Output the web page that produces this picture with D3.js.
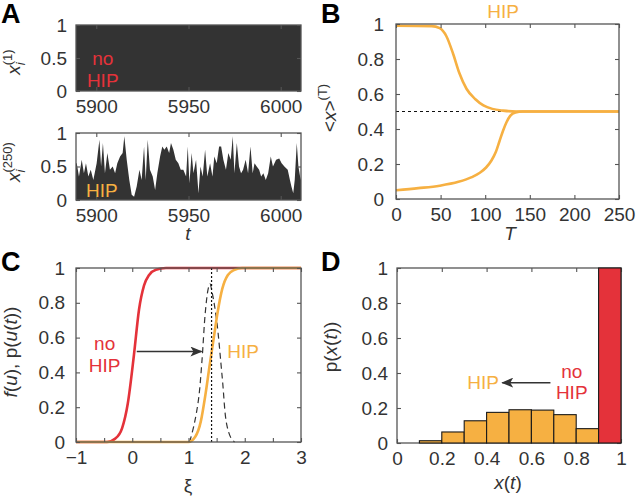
<!DOCTYPE html>
<html>
<head>
<meta charset="utf-8">
<script src="https://cdn.jsdelivr.net/npm/d3@7"></script>
<style>
  html, body { margin: 0; padding: 0; background: #fff; }
  svg { display: block; font-family: "Liberation Sans", Arial, sans-serif; }
</style>
</head>
<body>
<svg id="fig" width="640" height="504"></svg>
<script>
// ---- data ----
// A, top: x_i^(1) stays at 1 (no HIP)
const aTopT = [5889, 6011];
const aTopX = [1, 1];
// A, bottom: x_i^(250) with HIP
const aBotT = [5889, 5889.4, 5890.6, 5892.1, 5893.3, 5894.4, 5895.7, 5897.0, 5898.4, 5900.2,
  5901.7, 5902.6, 5903.6, 5904.7, 5906.0, 5907.4, 5908.9, 5910.2, 5911.4, 5912.9,
  5914.3, 5915.2, 5916.5, 5917.9, 5919.2, 5920.5, 5921.9, 5923.4, 5924.6, 5925.9,
  5926.8, 5927.9, 5929.1, 5930.6, 5931.9, 5933.1, 5934.6, 5935.8, 5936.9, 5938.2,
  5939.5, 5940.5, 5941.8, 5943.1, 5944.5, 5945.8, 5947.2, 5948.7, 5949.6, 5950.5,
  5951.7, 5952.7, 5954.1, 5955.4, 5956.5, 5957.7, 5959.0, 5960.2, 5961.7, 5963.0,
  5964.0, 5965.3, 5966.6, 5967.7, 5968.9, 5970.3, 5971.6, 5972.9, 5974.0, 5974.9,
  5976.2, 5977.4, 5978.5, 5979.6, 5981.0, 5982.3, 5983.6, 5984.8, 5985.8, 5987.0,
  5988.3, 5989.4, 5990.6, 5991.9, 5993.2, 5994.6, 5995.8, 5997.5, 5999.2, 6000.5,
  6002.0, 6003.8, 6005.0, 6005.8, 6006.8, 6007.6, 6008.7, 6009.6, 6010.5, 6011];
const aBotX = [0.55, 0.55, 0.35, 0.60, 0.40, 0.55, 0.35, 0.45, 0.30, 0.55,
  0.90, 0.50, 0.85, 0.40, 0.70, 0.45, 0.50, 0.40, 0.55, 0.65,
  0.70, 0.95, 0.60, 0.30, 0.08, 0.05, 0.20, 0.45, 0.30, 0.80,
  0.30, 0.90, 0.45, 0.35, 0.15, 0.40, 0.65, 0.80, 0.75, 0.80,
  0.70, 0.85, 0.75, 0.60, 0.55, 0.45, 0.45, 0.35, 0.80, 0.25,
  0.70, 0.40, 0.60, 0.10, 0.50, 0.35, 0.75, 0.35, 0.55, 0.35,
  0.65, 0.55, 0.80, 0.80, 0.60, 0.45, 0.70, 0.60, 0.95, 0.40,
  0.85, 0.50, 0.40, 0.45, 0.60, 0.40, 0.80, 0.40, 0.55, 0.50,
  0.45, 0.35, 0.40, 0.30, 0.40, 0.65, 0.50, 0.60, 0.62, 0.55,
  0.50, 0.45, 0.30, 0.20, 0.10, 0.30, 0.85, 0.50, 0.35, 0.30];

// B: running mean <x>^(T) from two starting states
const bT1 = [0, 40, 49, 56.5, 64, 71, 79, 89, 98, 108, 120, 135, 250];
const bX1 = [0.99, 0.988, 0.976, 0.93, 0.83, 0.72, 0.63, 0.57, 0.535, 0.515, 0.505, 0.5, 0.5];
const bT2 = [0, 25, 49, 70, 85, 94, 101, 107, 112, 116, 120, 124, 128, 134, 142, 250];
const bX2 = [0.05, 0.062, 0.076, 0.098, 0.125, 0.15, 0.18, 0.22, 0.27, 0.33, 0.39, 0.44, 0.475, 0.495, 0.5, 0.5];
const bRef = 0.5;

// C: transfer functions and input distribution
const cXiNo = [-1, -0.45, -0.3, -0.18, -0.08, 0.03, 0.12, 0.21, 0.3, 0.42, 0.6, 3];
const cFNo = [0, 0, 0.02, 0.08, 0.22, 0.5, 0.76, 0.9, 0.96, 0.99, 1, 1];
const cXiHip = [-1, 1.0, 1.12, 1.22, 1.3, 1.38, 1.45, 1.52, 1.6, 1.7, 1.82, 1.95, 3];
const cFHip = [0, 0, 0.03, 0.12, 0.27, 0.45, 0.6, 0.75, 0.88, 0.96, 0.99, 1, 1];
const cXiP = [1.02, 1.1, 1.18, 1.24, 1.3, 1.35, 1.38, 1.42, 1.5, 1.6, 1.68, 1.76, 1.82];
const cP = [0, 0.1, 0.25, 0.47, 0.75, 0.88, 0.91, 0.86, 0.7, 0.37, 0.1, 0.02, 0];
const cXiMean = 1.41;

// D: histograms of x(t)
const dBinLo = [0.1, 0.2, 0.3, 0.4, 0.5, 0.6, 0.7, 0.8];
const dHip = [0.013, 0.063, 0.127, 0.175, 0.19, 0.188, 0.162, 0.082];
const dBinLoNo = [0.9];
const dNoHip = [1.0];

// ---- drawing ----
const ink = "#333", frameCol = "#555";
const red = "#e4323a", orange = "#f6b042";
const svg = d3.select("#fig");

svg.append("defs").append("marker")
  .attr("id", "arrow")
  .attr("markerUnits", "userSpaceOnUse")
  .attr("markerWidth", 12).attr("markerHeight", 10)
  .attr("refX", 11).attr("refY", 5)
  .attr("orient", "auto")
  .append("path")
  .attr("d", "M0,0 L12,5 L0,10 L3,5 Z")
  .attr("fill", ink);

const num = (d) => (d < 0 ? "\u2212" + -d : String(d));

function makePanel(box, xDom, yDom) {
  const x = d3.scaleLinear().domain(xDom).range([box[0], box[1]]);
  const y = d3.scaleLinear().domain(yDom).range([box[3], box[2]]);
  const g = svg.append("g");
  return { x, y, g };
}

function frame(p, xTicks, yTicks, fmtX, fmtY, padY) {
  const { x, y, g } = p;
  const [x0, x1] = x.range();
  const [y1, y0] = y.range();
  g.append("g").attr("transform", `translate(0,${y1})`)
    .call(d3.axisBottom(x).tickValues(xTicks).tickSize(-4).tickPadding(9).tickFormat(fmtX));
  g.append("g").attr("transform", `translate(0,${y0})`)
    .call(d3.axisTop(x).tickValues(xTicks).tickSize(-4).tickFormat(""));
  g.append("g").attr("transform", `translate(${x0},0)`)
    .call(d3.axisLeft(y).tickValues(yTicks).tickSize(-4).tickPadding(padY || 10).tickFormat(fmtY));
  g.append("g").attr("transform", `translate(${x1},0)`)
    .call(d3.axisRight(y).tickValues(yTicks).tickSize(-4).tickFormat(""));
  g.selectAll(".domain").remove();
  g.selectAll("g").attr("font-family", null);
  g.selectAll(".tick line").attr("stroke", frameCol).attr("stroke-width", 1.1);
  g.selectAll(".tick text").attr("fill", ink).attr("font-size", 19);
  g.append("rect")
    .attr("x", x0).attr("y", y0)
    .attr("width", x1 - x0).attr("height", y1 - y0)
    .attr("fill", "none").attr("stroke", frameCol).attr("stroke-width", 1.3);
}

function label(x, y, txt, color, opts = {}) {
  return svg.append("text")
    .attr("x", x).attr("y", y)
    .attr("text-anchor", opts.anchor || "middle")
    .attr("font-size", opts.size || 19)
    .attr("font-weight", opts.weight || null)
    .attr("font-style", opts.italic ? "italic" : null)
    .attr("fill", color)
    .text(txt);
}

// rotated y-axis title built from pieces [text, italic, shift, size, dx]
function yTitle(cx, cy, pieces) {
  const t = svg.append("text")
    .attr("transform", `translate(${cx},${cy}) rotate(-90)`)
    .attr("text-anchor", "middle")
    .attr("font-size", 19)
    .attr("fill", ink);
  pieces.forEach(([s, it, dy, size, dx]) => {
    t.append("tspan")
      .attr("font-style", it ? "italic" : null)
      .attr("dy", dy || null)
      .attr("dx", dx || null)
      .attr("font-size", size || null)
      .text(s);
  });
}

const fmtPlain = (d) => num(d);

// ---- panel A ----
const aTop = makePanel([76, 301, 25, 91], [5889, 6011], [0, 1]);
const aBot = makePanel([76, 301, 133, 200], [5889, 6011], [0, 1]);

function series(T, X) { return T.map((t, i) => ({ t, v: X[i] })); }

aTop.g.append("path")
  .datum(series(aTopT, aTopX))
  .attr("d", d3.area().x((d) => aTop.x(d.t)).y0(aTop.y(0)).y1((d) => aTop.y(d.v)))
  .attr("fill", ink);
aBot.g.append("path")
  .datum(series(aBotT, aBotX))
  .attr("d", d3.area().x((d) => aBot.x(d.t)).y0(aBot.y(0)).y1((d) => aBot.y(d.v)))
  .attr("fill", ink);

frame(aTop, [5900, 5950, 6000], [0, 0.5, 1], fmtPlain, fmtPlain, 9);
frame(aBot, [5900, 5950, 6000], [0, 0.5, 1], fmtPlain, fmtPlain, 9);

label(aTop.x(5903.5), aTop.y(0.39), "no", red);
label(aTop.x(5903.5), aTop.y(0.06), "HIP", red);
label(aBot.x(5903), aBot.y(0.05), "HIP", orange);

yTitle(20, 62, [["x", true], ["i", true, 5, 13], ["(1)", false, -13, 13, -3]]);
yTitle(20, 162, [["x", true], ["i", true, 5, 13], ["(250)", false, -13, 13, -3]]);
label(188, 240, "t", ink, { italic: true });

// ---- panel B ----
const pb = makePanel([396, 619, 24, 199], [0, 250], [0, 1]);
pb.g.append("line")
  .attr("x1", pb.x(0)).attr("x2", pb.x(250))
  .attr("y1", pb.y(bRef)).attr("y2", pb.y(bRef))
  .attr("stroke", "#111").attr("stroke-width", 1.2).attr("stroke-dasharray", "3,3");
const lineB = d3.line().x((d) => pb.x(d.t)).y((d) => pb.y(d.v)).curve(d3.curveMonotoneX);
[series(bT1, bX1), series(bT2, bX2)].forEach((s) => {
  pb.g.append("path").datum(s).attr("d", lineB)
    .attr("fill", "none").attr("stroke", orange).attr("stroke-width", 2.6);
});
frame(pb, [0, 50, 100, 150, 200, 250], [0, 0.2, 0.4, 0.6, 0.8, 1], fmtPlain, fmtPlain, 12);
label(503, 18, "HIP", orange);
yTitle(336, 108, [["<"], ["x", true], [">"], ["(T)", false, -9, 13]]);
label(510, 240, "T", ink, { italic: true });

// ---- panel C ----
const pc = makePanel([76, 301, 268, 442], [-1, 3], [0, 1]);
const lineC = d3.line().x((d) => pc.x(d.t)).y((d) => pc.y(d.v)).curve(d3.curveMonotoneX);
pc.g.append("path").datum(series(cXiP, cP)).attr("d", lineC.curve(d3.curveCatmullRom))
  .attr("fill", "none").attr("stroke", ink).attr("stroke-width", 1.2).attr("stroke-dasharray", "6,4");
lineC.curve(d3.curveMonotoneX);
pc.g.append("path").datum(series(cXiNo, cFNo)).attr("d", lineC)
  .attr("fill", "none").attr("stroke", red).attr("stroke-width", 2.6);
pc.g.append("path").datum(series(cXiHip, cFHip)).attr("d", lineC)
  .attr("fill", "none").attr("stroke", orange).attr("stroke-width", 2.6);
pc.g.append("line")
  .attr("x1", pc.x(cXiMean)).attr("x2", pc.x(cXiMean))
  .attr("y1", pc.y(0)).attr("y2", pc.y(1))
  .attr("stroke", "#111").attr("stroke-width", 1.2).attr("stroke-dasharray", "2,2");
pc.g.append("line")
  .attr("x1", pc.x(0.08)).attr("x2", pc.x(1.23))
  .attr("y1", pc.y(0.52)).attr("y2", pc.y(0.52))
  .attr("stroke", ink).attr("stroke-width", 1.5)
  .attr("marker-end", "url(#arrow)");
frame(pc, [-1, -0.5, 0, 0.5, 1, 1.5, 2, 2.5, 3], [0, 0.2, 0.4, 0.6, 0.8, 1],
  (d) => (Number.isInteger(d) ? num(d) : ""), fmtPlain, 11);
label(pc.x(-0.49), pc.y(0.53), "no", red);
label(pc.x(-0.49), pc.y(0.40), "HIP", red);
label(pc.x(1.97), pc.y(0.48), "HIP", orange);
yTitle(17, 352, [["f", true], ["("], ["u", true], ["), p("], ["u", true], ["("], ["t", true], ["))"]]);
label(188, 492, "\u03be", ink);

// ---- panel D ----
const pd = makePanel([397, 621, 268, 443], [0, 1], [0, 1]);
function bars(lo, h, fill) {
  pd.g.append("g").selectAll("rect")
    .data(lo.map((l, i) => ({ l, h: h[i] })))
    .join("rect")
    .attr("x", (d) => pd.x(d.l))
    .attr("width", (d) => pd.x(d.l + 0.1) - pd.x(d.l))
    .attr("y", (d) => pd.y(d.h))
    .attr("height", (d) => pd.y(0) - pd.y(d.h))
    .attr("fill", fill).attr("stroke", "#1a1a1a").attr("stroke-width", 1.1);
}
frame(pd, [0, 0.2, 0.4, 0.6, 0.8, 1], [0, 0.2, 0.4, 0.6, 0.8, 1], fmtPlain, fmtPlain, 9);
bars(dBinLo, dHip, orange);
bars(dBinLoNo, dNoHip, red);
label(pd.x(0.384), pd.y(0.31), "HIP", orange);
pd.g.append("line")
  .attr("x1", pd.x(0.685)).attr("x2", pd.x(0.47))
  .attr("y1", pd.y(0.345)).attr("y2", pd.y(0.345))
  .attr("stroke", ink).attr("stroke-width", 1.5)
  .attr("marker-end", "url(#arrow)");
label(pd.x(0.78), pd.y(0.37), "no", red);
label(pd.x(0.78), pd.y(0.25), "HIP", red);
yTitle(337, 347, [["p("], ["x", true], ["("], ["t", true], ["))"]]);
svg.append("text").attr("x", 508).attr("y", 489).attr("text-anchor", "middle")
  .attr("font-size", 19).attr("fill", ink)
  .call((t) => {
    t.append("tspan").attr("font-style", "italic").text("x");
    t.append("tspan").text("(");
    t.append("tspan").attr("font-style", "italic").text("t");
    t.append("tspan").text(")");
  });

// ---- panel letters ----
[["A", 1, 23], ["B", 321, 23], ["C", 1, 271], ["D", 321, 271]].forEach(([s, x, y]) => {
  label(x, y, s, "#000", { anchor: "start", size: 27, weight: "bold" });
});
</script>
</body>
</html>
